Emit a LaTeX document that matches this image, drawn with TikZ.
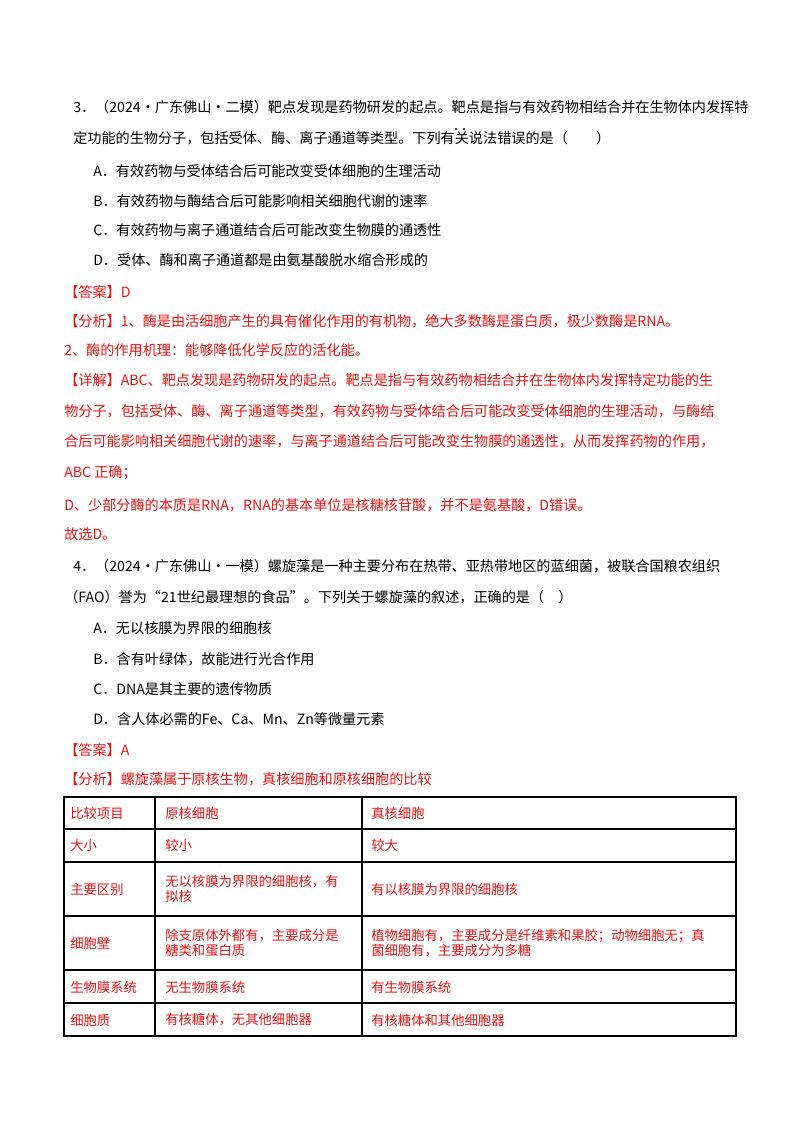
\documentclass[tikz,border=0pt]{standalone}
\usepackage{fontspec}
\setmainfont{Noto Sans CJK SC}
\definecolor{ansred}{RGB}{235,20,20}
\begin{document}
\begin{tikzpicture}[x=0.75pt,y=-0.75pt,
  t/.style={anchor=base west,inner sep=0pt,font=\fontsize{10.6pt}{12pt}\selectfont},
  r/.style={t,text=ansred},
  tab/.style={line width=0.8pt}]
\useasboundingbox (0,0) rectangle (800,1132);
\node[t] (q1) at (73,112) {3．（2024·广东佛山·二模）靶点发现是药物研发的起点。靶点是指与有效药物相结合并在生物体内发挥特};
\node[t] (q2) at (73,143) {定功能的生物分子，包括受体、酶、离子通道等类型。下列有关说法错误的是（\quad\quad）};
\fill (456,129) circle (1.2) (464,129) circle (1.2);
\node[t] (qa) at (93,176) {A．有效药物与受体结合后可能改变受体细胞的生理活动};
\node[t] (qb) at (93,206) {B．有效药物与酶结合后可能影响相关细胞代谢的速率};
\node[t] (qc) at (93,235) {C．有效药物与离子通道结合后可能改变生物膜的通透性};
\node[t] (qd) at (93,265) {D．受体、酶和离子通道都是由氨基酸脱水缩合形成的};
\node[r] (a1) at (64,297) {【答案】D};
\node[r] (f1) at (64,326) {【分析】1、酶是由活细胞产生的具有催化作用的有机物，绝大多数酶是蛋白质，极少数酶是RNA。};
\node[r] (f2) at (64,355) {2、酶的作用机理：能够降低化学反应的活化能。};
\node[r] (x1) at (64,385) {【详解】ABC、靶点发现是药物研发的起点。靶点是指与有效药物相结合并在生物体内发挥特定功能的生};
\node[r] (x2) at (64,416) {物分子，包括受体、酶、离子通道等类型，有效药物与受体结合后可能改变受体细胞的生理活动，与酶结};
\node[r] (x3) at (64,446) {合后可能影响相关细胞代谢的速率，与离子通道结合后可能改变生物膜的通透性，从而发挥药物的作用，};
\node[r] (x4) at (64,477) {ABC 正确；};
\node[r] (x5) at (64,510) {D、少部分酶的本质是RNA，RNA的基本单位是核糖核苷酸，并不是氨基酸，D错误。};
\node[r] (x6) at (64,539) {故选D。};
\node[t] (p1) at (73,571) {4．（2024·广东佛山·一模）螺旋藻是一种主要分布在热带、亚热带地区的蓝细菌，被联合国粮农组织};
\node[t] (p2) at (64,602) {（FAO）誉为“21世纪最理想的食品”。下列关于螺旋藻的叙述，正确的是（\quad）};
\node[t] (pa) at (93,633) {A．无以核膜为界限的细胞核};
\node[t] (pb) at (93,664) {B．含有叶绿体，故能进行光合作用};
\node[t] (pc) at (93,694) {C．DNA是其主要的遗传物质};
\node[t] (pd) at (93,724) {D．含人体必需的Fe、Ca、Mn、Zn等微量元素};
\node[r] (a2) at (64,755) {【答案】A};
\node[r] (f3) at (64,784) {【分析】螺旋藻属于原核生物，真核细胞和原核细胞的比较};
% table
\draw[tab] (64,797) rectangle (736,1036);
\foreach \yy in {829,862,916,970,1003} \draw[tab] (64,\yy) -- (736,\yy);
\draw[tab] (155,797) -- (155,1036);
\draw[tab] (362,797) -- (362,1036);
\begin{scope}[every node/.style={r,anchor=west,font=\fontsize{10pt}{12pt}\selectfont,align=left}]
\node (c11) at (70,813) {比较项目};
\node (c12) at (165,813) {原核细胞};
\node (c13) at (371,813) {真核细胞};
\node (c21) at (70,845) {大小};
\node (c22) at (165,845) {较小};
\node (c23) at (371,845) {较大};
\node (c31) at (70,889) {主要区别};
\node (c32) at (165,889) {无以核膜为界限的细胞核，有\\[-1pt]拟核};
\node (c33) at (371,889) {有以核膜为界限的细胞核};
\node (c41) at (70,943) {细胞壁};
\node (c42) at (165,943) {除支原体外都有，主要成分是\\[-1pt]糖类和蛋白质};
\node (c43) at (371,943) {植物细胞有，主要成分是纤维素和果胶；动物细胞无；真\\[-1pt]菌细胞有，主要成分为多糖};
\node (c51) at (70,987) {生物膜系统};
\node (c52) at (165,987) {无生物膜系统};
\node (c53) at (371,987) {有生物膜系统};
\node (c61) at (70,1020) {细胞质};
\node (c62) at (165,1020) {有核糖体，无其他细胞器};
\node (c63) at (371,1020) {有核糖体和其他细胞器};
\end{scope}
\end{tikzpicture}
\end{document}
